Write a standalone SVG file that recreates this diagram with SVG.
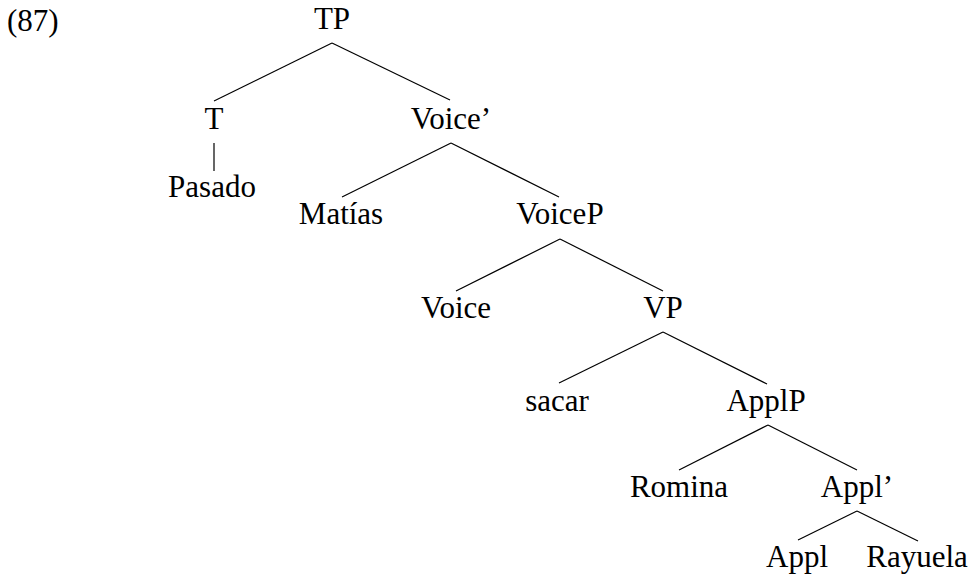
<svg xmlns="http://www.w3.org/2000/svg" width="975" height="578" viewBox="0 0 975 578">
<style>
text{font-family:"Liberation Serif","Times New Roman",serif;font-size:31px;fill:#000;text-anchor:middle}
.edges line{stroke:#000;stroke-width:1.2;stroke-linecap:butt}
</style>
<rect width="975" height="578" fill="#fff"/>
<g id="label-87"><text x="7" y="31" style="text-anchor:start">(87)</text></g>
<g class="edges" id="connectors">
<line x1="332" y1="43" x2="214" y2="101"/>
<line x1="332" y1="43" x2="450" y2="100"/>
<line x1="214" y1="143" x2="214" y2="171"/>
<line x1="451" y1="143" x2="342" y2="197"/>
<line x1="451" y1="143" x2="559" y2="197"/>
<line x1="560" y1="239" x2="456" y2="291"/>
<line x1="560" y1="239" x2="663" y2="291"/>
<line x1="663" y1="332" x2="559" y2="383"/>
<line x1="663" y1="332" x2="767" y2="384"/>
<line x1="768" y1="425" x2="679" y2="470"/>
<line x1="768" y1="425" x2="857" y2="470"/>
<line x1="857" y1="511" x2="798" y2="540"/>
<line x1="857" y1="511" x2="918" y2="541"/>
</g>
<g id="node-TP"><text x="332" y="29">TP</text></g>
<g id="node-T"><text x="214" y="129">T</text></g>
<g id="node-Pasado"><text x="212" y="197">Pasado</text></g>
<g id="node-Voice-bar"><text x="451" y="129">Voice’</text></g>
<g id="node-Matias"><text x="341" y="224">Matías</text></g>
<g id="node-VoiceP"><text x="560" y="224">VoiceP</text></g>
<g id="node-Voice"><text x="456" y="318">Voice</text></g>
<g id="node-VP"><text x="663" y="318">VP</text></g>
<g id="node-sacar"><text x="557" y="411">sacar</text></g>
<g id="node-ApplP"><text x="766" y="411">ApplP</text></g>
<g id="node-Romina"><text x="679" y="497">Romina</text></g>
<g id="node-Appl-bar"><text x="857" y="497">Appl’</text></g>
<g id="node-Appl"><text x="797" y="567">Appl</text></g>
<g id="node-Rayuela"><text x="917" y="567">Rayuela</text></g>
</svg>
